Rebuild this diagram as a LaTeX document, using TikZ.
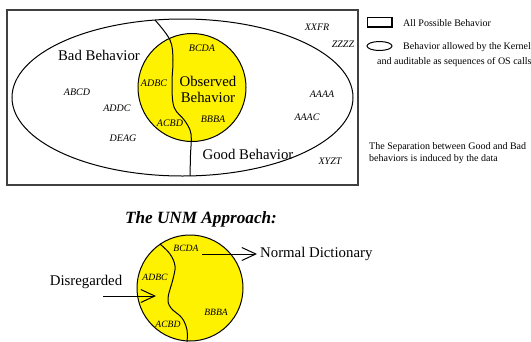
\documentclass[tikz,border=0pt]{standalone}
\usepackage{fontspec}
\setmainfont{Liberation Serif}
\usepackage{tikz}
\usetikzlibrary{arrows.meta,positioning}
\tikzset{
  bigtext/.style={font=\fontsize{14.8}{15.7}\selectfont,align=center,inner sep=0pt},
  seqtext/.style={font=\fontsize{10}{12}\selectfont\itshape,inner sep=0pt},
  smallseq/.style={font=\fontsize{9.6}{11}\selectfont\itshape,inner sep=0pt},
  legendtext/.style={font=\fontsize{10}{12.7}\selectfont,inner sep=0pt,anchor=west,align=left},
  spacebox/.style={draw=black!75,line width=2pt},
  kernelshape/.style={draw,line width=1pt},
  observedset/.style={draw,fill=yellow,line width=1pt},
  splitline/.style={line width=1pt},
  barbarrow/.style={-{Straight Barb[length=14pt,width=13pt,line width=1pt]},line width=1pt}
}
\begin{document}
\begin{tikzpicture}[x=1pt,y=-1pt]
  \useasboundingbox (0,0) rectangle (531,341);
  % top picture
  \draw[spacebox] (7,10) rectangle (358,185);
  \draw[kernelshape] (182.5,97.5) ellipse [x radius=170.5,y radius=78.5];
  \draw[observedset] (192,87.5) circle [radius=54];
  \draw[splitline] plot[smooth,tension=0.6] coordinates {(155,20) (170,40) (173,60) (172,83) (174,107) (185,121) (191,134) (190.5,155) (190,176)};
  \node[bigtext] (badlabel) at (99,55) {Bad Behavior};
  \node[bigtext] (goodlabel) at (248,154) {Good Behavior};
  \node[bigtext] (observed) at (208,89.5) {Observed\\Behavior};
  \node[seqtext] (abcd) at (77,92) {ABCD};
  \node[seqtext] (addc) at (117,108) {ADDC};
  \node[seqtext] (deag) at (123,138) {DEAG};
  \node[seqtext] (adbc) at (154,83) {ADBC};
  \node[seqtext] (acbd) at (170,123) {ACBD};
  \node[seqtext] (bcda) at (202,48) {BCDA};
  \node[seqtext] (bbba) at (213,119) {BBBA};
  \node[seqtext] (xxfr) at (317,27) {XXFR};
  \node[seqtext] (zzzz) at (343,44) {ZZZZ};
  \node[seqtext] (aaaa) at (322,94) {AAAA};
  \node[seqtext] (aaac) at (307,117) {AAAC};
  \node[seqtext] (xyzt) at (330,161) {XYZT};
  % legend
  \draw[line width=1.2pt] (367.5,17.5) rectangle (392,27);
  \node[legendtext] (allpossible) at (403,23) {All Possible Behavior};
  \draw[line width=1pt] (379.5,46) ellipse [x radius=12.5,y radius=4.5];
  \node[legendtext] (kernel) at (403,47) {Behavior allowed by the Kernel};
  \node[legendtext] (auditable) at (377,62) {and auditable as sequences of OS calls};
  \node[legendtext] (separation) at (369,153) {The Separation between Good and Bad\\behaviors is induced by the data};
  % bottom picture
  \node[font=\fontsize{17.2}{20}\selectfont\bfseries\itshape,inner sep=0pt] (unm) at (201,219) {The UNM Approach:};
  \draw[observedset] (190,288) circle [radius=53];
  \draw[splitline] plot[smooth,tension=0.6] coordinates {(160,244) (170,254) (175,266) (173,279) (168,298) (171,308) (182,318) (187,330) (187,342)};
  \node[smallseq] (bbcda) at (186,248) {BCDA};
  \node[smallseq] (badbc) at (155,277) {ADBC};
  \node[smallseq] (bbbba) at (216,312) {BBBA};
  \node[smallseq] (bacbd) at (168,324) {ACBD};
  \node[bigtext,anchor=west,inner sep=3pt] (normal) at (257,254) {Normal Dictionary};
  \coordinate (normstart) at (202,254);
  \draw[barbarrow] (normstart) -- (normal.west);
  \node[bigtext] (disregarded) at (86,282) {Disregarded};
  \coordinate (disstart) at (103,296);
  \coordinate (disend) at (156,296);
  \draw[barbarrow] (disstart) -- (disend);
\end{tikzpicture}
\end{document}
